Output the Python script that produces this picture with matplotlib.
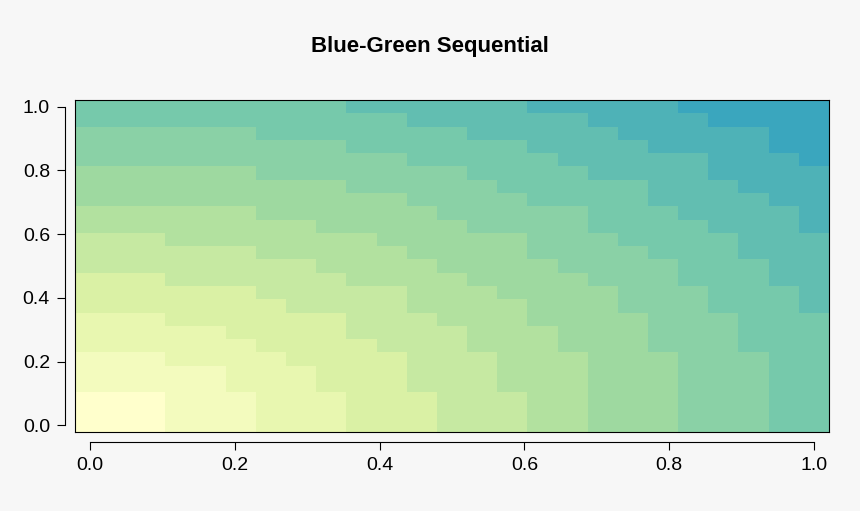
import numpy as np
import matplotlib
matplotlib.use("Agg")
import matplotlib.pyplot as plt
from matplotlib.colors import LinearSegmentedColormap, BoundaryNorm

plt.rcParams["font.family"] = ["Liberation Sans", "DejaVu Sans"]

# 25 x 25 grid on [0, 1]
x_vals = np.linspace(0, 1, 25)
y_vals = np.linspace(0, 1, 25)
palette = ["#ffffcc", "#e0f4a6", "#a8dd9e", "#72c8ad", "#3aa6be"]
n_levels = 12

X, Y = np.meshgrid(x_vals, y_vals)
z = np.sqrt(X ** 2 + Y ** 2)

cmap = LinearSegmentedColormap.from_list("bg", palette, N=n_levels)
norm = BoundaryNorm(np.linspace(0, np.sqrt(2), n_levels + 1), n_levels)

bg = "#f7f7f7"
fig = plt.figure(figsize=(8.6, 5.11), dpi=100, facecolor=bg)
pos = [0.0872, 0.1546, 0.8767, 0.6497]
ax = fig.add_axes(pos)
half = 0.5 / 24
ax.imshow(z, origin="lower", cmap=cmap, norm=norm, aspect="auto",
          extent=(-half, 1 + half, -half, 1 + half), interpolation="nearest")
ax.set_xlim(-half, 1 + half)
ax.set_ylim(-half, 1 + half)
ax.set_xticks([])
ax.set_yticks([])
for s in ax.spines.values():
    s.set_linewidth(0.8)

# R-style detached axes
ax2 = fig.add_axes(pos, facecolor="none")
ax2.set_xlim(-half, 1 + half)
ax2.set_ylim(-half, 1 + half)
ticks = [0.0, 0.2, 0.4, 0.6, 0.8, 1.0]
ax2.set_xticks(ticks, [f"{t:.1f}" for t in ticks])
ax2.set_yticks(ticks, [f"{t:.1f}" for t in ticks], rotation=90, va="center")
for side in ("top", "right"):
    ax2.spines[side].set_visible(False)
for side in ("bottom", "left"):
    ax2.spines[side].set_position(("outward", 7))
    ax2.spines[side].set_bounds(0, 1)
    ax2.spines[side].set_linewidth(0.8)
ax2.tick_params(labelsize=14, length=6, width=0.8, pad=5)

fig.suptitle("Blue-Green Sequential", fontsize=16, fontweight="bold", y=0.93)
fig.savefig("out.png", dpi=100, facecolor=bg)
